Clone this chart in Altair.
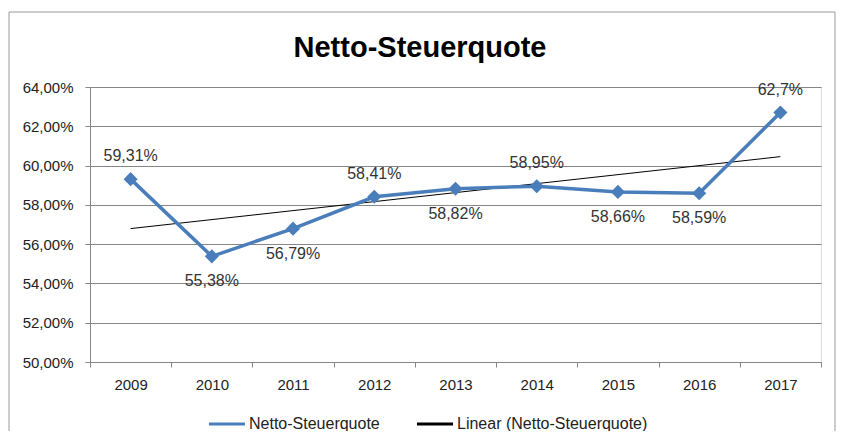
import altair as alt
import pandas as pd

years = [2009, 2010, 2011, 2012, 2013, 2014, 2015, 2016, 2017]
values = [59.31, 55.38, 56.79, 58.41, 58.82, 58.95, 58.66, 58.59, 62.7]
labels = ["59,31%", "55,38%", "56,79%", "58,41%", "58,82%", "58,95%", "58,66%", "58,59%", "62,7%"]
label_side = ["above", "below", "below", "above", "below", "above", "below", "below", "above"]
y_ticks = [50, 52, 54, 56, 58, 60, 62, 64]
series_name = "Netto-Steuerquote"
trend_name = "Linear (Netto-Steuerquote)"
title_text = "Netto-Steuerquote"

df = pd.DataFrame({"year": years, "value": values, "label": labels, "side": label_side})
df["series"] = series_name

BLUE = "#4A7EBB"
GRID = "#868686"
FONT = "Liberation Sans"
TXT = "#222222"

x_enc = alt.X(
    "year:O",
    scale=alt.Scale(type="band", paddingInner=0, paddingOuter=0),
    axis=alt.Axis(
        title=None, labelAngle=0, tickBand="extent", domain=False,
        tickColor=GRID, tickSize=5, labelFont=FONT, labelFontSize=15,
        labelColor=TXT, labelPadding=10, grid=False,
    ),
)
y_enc = alt.Y(
    "value:Q",
    scale=alt.Scale(domain=[50, 64], nice=False, zero=False),
    axis=alt.Axis(
        title=None, values=y_ticks, ticks=True, tickSize=5, tickColor=GRID,
        domainColor=GRID, gridColor=GRID, gridOpacity=1, labelFont=FONT,
        labelFontSize=15, labelColor=TXT, labelPadding=12,
        labelExpr="replace(format(datum.value, '.2f'), '.', ',') + '%'",
    ),
)
color_enc = alt.Color(
    "series:N",
    scale=alt.Scale(domain=[series_name, trend_name], range=[BLUE, "black"]),
    legend=alt.Legend(
        title=None, orient="none", legendX=117, legendY=317, direction="horizontal",
        symbolType="stroke", symbolSize=1300, symbolStrokeWidth=3,
        labelFont=FONT, labelFontSize=16, labelColor=TXT, columnPadding=30,
        labelLimit=400, labelOffset=2,
    ),
)

base = alt.Chart(df)

line = base.mark_line(strokeWidth=3.5).encode(x=x_enc, y=y_enc, color=color_enc)
pts = base.mark_point(shape="diamond", filled=True, size=200, opacity=1, color=BLUE).encode(x=x_enc, y=y_enc)

trend = base.transform_regression("year", "value", method="linear").transform_calculate(
    series=f"'{trend_name}'"
).mark_line(strokeWidth=1).encode(x=x_enc, y=y_enc, color=color_enc)

txt_above = base.transform_filter("datum.side == 'above'").mark_text(
    dy=-23, font=FONT, fontSize=16, color="#333333"
).encode(x=x_enc, y=y_enc, text="label:N")
txt_below = base.transform_filter("datum.side == 'below'").mark_text(
    dy=25, font=FONT, fontSize=16, color="#333333"
).encode(x=x_enc, y=y_enc, text="label:N")

deco = alt.Chart(pd.DataFrame({"t": [title_text]}))
frame = deco.mark_rect(fill=None, stroke="#9a9a9a", strokeWidth=1).encode(
    x=alt.value(-81), x2=alt.value(745), y=alt.value(-75), y2=alt.value(350)
)
title = deco.mark_text(
    font=FONT, fontSize=29, fontWeight="bold", color="black",
    align="center", baseline="alphabetic",
).encode(text="t:N", x=alt.value(330), y=alt.value(-30))

chart = alt.layer(frame, title, trend, line, pts, txt_above, txt_below).properties(
    width=731,
    height=275,
    autosize=alt.AutoSizeParams(type="none"),
    padding={"left": 82, "top": 79, "right": 15, "bottom": 69},
).configure_view(strokeWidth=0).configure(background="white")

chart.save("out.html", embed_options={"renderer": "svg", "actions": False})
